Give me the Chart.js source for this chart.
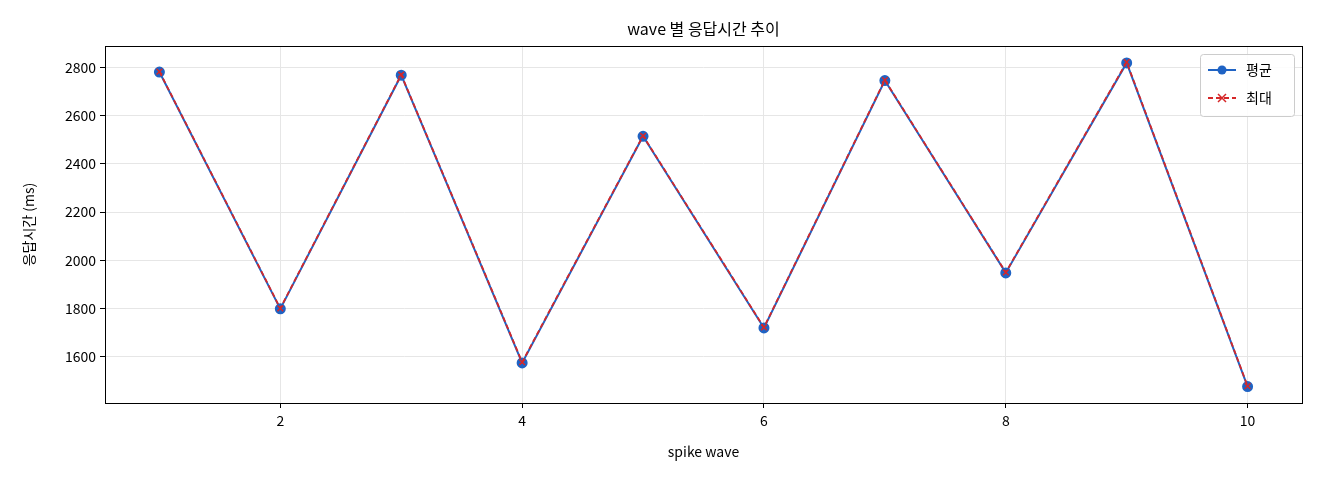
<!DOCTYPE html>
<html><head><meta charset="utf-8">
<script src="https://cdn.jsdelivr.net/npm/chart.js@4/dist/chart.umd.min.js"></script>
<style>body{margin:0;background:#fff}</style></head>
<body><canvas id="c" width="1320" height="480"></canvas>
<script>
const waves=[1,2,3,4,5,6,7,8,9,10];
const avgVals=[2780,1799,2767,1575,2514,1720,2745,1948,2818,1477];
const maxVals=[2782,1801,2769,1578,2516,1722,2747,1950,2821,1479];
const xTicks=[2,4,6,8,10];
const yTicks=[1600,1800,2000,2200,2400,2600,2800];
const F='"Noto Sans CJK KR","Noto Sans",sans-serif';
const blue='#1f63c4', red='#d62728';
const frame={id:'frame',afterDraw(c){const a=c.chartArea,x=c.ctx;x.save();
x.strokeStyle='#000';x.lineWidth=1;x.strokeRect(a.left+.5,a.top+.5,a.right-a.left,a.bottom-a.top);
x.fillStyle='#000';x.font='16px '+F;x.textAlign='center';x.textBaseline='middle';
x.fillText('wave 별 응답시간 추이',(a.left+a.right)/2,29);
const lx=1200,ly=54;x.fillStyle='rgba(255,255,255,0.85)';x.strokeStyle='#ccc';
x.beginPath();x.roundRect(lx+.5,ly+.5,94,62,3);x.fill();x.stroke();
x.font='14px '+F;x.textAlign='left';
x.strokeStyle=blue;x.lineWidth=2;x.setLineDash([]);x.beginPath();x.moveTo(lx+8,ly+16);x.lineTo(lx+36,ly+16);x.stroke();
x.fillStyle=blue;x.beginPath();x.arc(lx+22,ly+16,4.5,0,7);x.fill();
x.strokeStyle=red;x.setLineDash([5,3]);x.beginPath();x.moveTo(lx+8,ly+44);x.lineTo(lx+36,ly+44);x.stroke();x.setLineDash([]);
x.lineWidth=1.5;x.beginPath();x.moveTo(lx+18,ly+40);x.lineTo(lx+26,ly+48);x.moveTo(lx+26,ly+40);x.lineTo(lx+18,ly+48);x.stroke();
x.fillStyle='#000';x.fillText('평균',lx+46,ly+16);x.fillText('최대',lx+46,ly+44);
x.restore();}};
new Chart(document.getElementById('c'),{type:'line',
data:{datasets:[
{label:'평균',order:2,data:waves.map((w,i)=>({x:w,y:avgVals[i]})),borderColor:blue,backgroundColor:blue,borderWidth:2,pointRadius:4.5,pointStyle:'circle',tension:0},
{label:'최대',order:1,data:waves.map((w,i)=>({x:w,y:maxVals[i]})),borderColor:red,backgroundColor:red,borderWidth:1.8,borderDash:[5,3],pointRadius:4,pointStyle:'crossRot',pointBorderWidth:1.5,tension:0}]},
plugins:[frame],
options:{responsive:false,animation:false,layout:{padding:{top:46,right:18,left:0,bottom:0}},
plugins:{legend:{display:false},title:{display:false},tooltip:{enabled:false}},
scales:{
x:{type:'linear',min:0.55,max:10.45,afterBuildTicks(s){s.ticks=xTicks.map(v=>({value:v}))},afterFit(s){s.height=77},
grid:{color:'#e6e6e6',tickColor:'#000',tickLength:5},border:{display:false},
ticks:{color:'#000',font:{family:F,size:14},padding:4,maxRotation:0,callback:v=>String(v)},
title:{display:true,text:'spike wave',color:'#000',font:{family:F,size:14},padding:{top:0,bottom:20}}},
y:{min:1409,max:2888,afterBuildTicks(s){s.ticks=yTicks.map(v=>({value:v}))},afterFit(s){s.width=105},
grid:{color:'#e6e6e6',tickColor:'#000',tickLength:5},border:{display:false},
ticks:{color:'#000',font:{family:F,size:14},padding:4,callback:v=>String(v)},
title:{display:true,text:'응답시간 (ms)',color:'#000',font:{family:F,size:14},padding:{top:20,bottom:0}}}}}});
</script></body></html>
